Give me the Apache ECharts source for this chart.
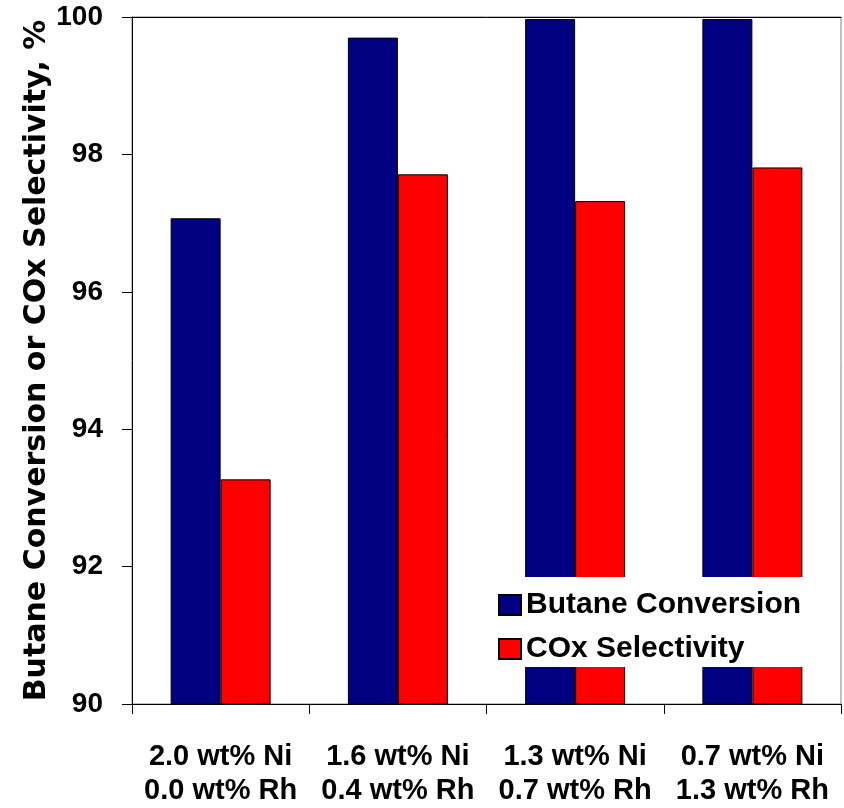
<!DOCTYPE html>
<html>
<head>
    <meta charset="UTF-8">
    <title>Butane Conversion / COx Selectivity</title>
    <script src="https://cdn.jsdelivr.net/npm/echarts@6/dist/echarts.min.js"></script>
    <style>
        html, body { margin: 0; padding: 0; background: #fff; }
        #main { width: 844px; height: 808px; }
    </style>
</head>
<body>
    <div id="main"></div>
    <script type="text/javascript">
        // 数据
        var categories = ['2.0 wt% Ni\n0.0 wt% Rh', '1.6 wt% Ni\n0.4 wt% Rh', '1.3 wt% Ni\n0.7 wt% Rh', '0.7 wt% Ni\n1.3 wt% Rh'];
        var butaneConversion = [97.07, 99.70, 99.97, 99.97];
        var coxSelectivity = [93.27, 97.71, 97.32, 97.81];
        var yTicks = [90, 92, 94, 96, 98, 100];

        var font = '"Liberation Sans", Arial, sans-serif';
        var myChart = echarts.init(document.getElementById('main'));

        var option = {
            animation: false,
            backgroundColor: '#fff',
            grid: {
                left: 132, right: 3, top: 17, bottom: 102,
                show: true,
                borderColor: '#808080',
                borderWidth: 1
            },
            legend: {
                orient: 'vertical',
                left: 474,
                top: 577,
                padding: [13, 26, 3, 24],
                backgroundColor: '#fff',
                icon: 'rect',
                itemWidth: 22,
                itemHeight: 20,
                itemGap: 14,
                textStyle: {
                    fontFamily: font,
                    fontWeight: 'bold',
                    fontSize: 30,
                    lineHeight: 26,
                    color: '#000'
                },
                data: ['Butane Conversion', 'COx Selectivity']
            },
            xAxis: [{
                type: 'category',
                data: categories,
                axisLine: { lineStyle: { color: '#000', width: 1 } },
                axisTick: { show: true, length: 10, lineStyle: { color: '#000' } },
                axisLabel: {
                    interval: 0,
                    margin: 36,
                    fontFamily: font,
                    fontWeight: 'bold',
                    fontSize: 29,
                    lineHeight: 34,
                    color: '#000'
                }
            }, {
                type: 'category',
                position: 'top',
                data: categories,
                axisLine: { show: true, lineStyle: { color: '#000', width: 1 } },
                axisTick: { show: false },
                axisLabel: { show: false }
            }],
            yAxis: {
                type: 'value',
                min: yTicks[0],
                max: yTicks[yTicks.length - 1],
                interval: 2,
                name: 'Butane Conversion or COx Selectivity, %',
                nameLocation: 'middle',
                nameGap: 80,
                nameMoveOverlap: false,
                nameTextStyle: {
                    fontFamily: '"DejaVu Sans", sans-serif',
                    fontWeight: 'bold',
                    fontSize: 30,
                    color: '#000'
                },
                axisLine: { show: true, lineStyle: { color: '#000', width: 1 } },
                axisTick: { show: true, length: 10, lineStyle: { color: '#000' } },
                splitLine: { show: false },
                axisLabel: {
                    margin: 29,
                    fontFamily: font,
                    fontWeight: 'bold',
                    fontSize: 28,
                    color: '#000'
                }
            },
            series: [{
                name: 'Butane Conversion',
                type: 'bar',
                barWidth: 50,
                barGap: '0%',
                itemStyle: { color: '#000080', borderColor: '#000', borderWidth: 1 },
                data: butaneConversion
            }, {
                name: 'COx Selectivity',
                type: 'bar',
                barWidth: 50,
                barGap: '0%',
                itemStyle: { color: '#FF0000', borderColor: '#000', borderWidth: 1 },
                data: coxSelectivity
            }]
        };
        myChart.setOption(option);
    </script>
</body>
</html>
